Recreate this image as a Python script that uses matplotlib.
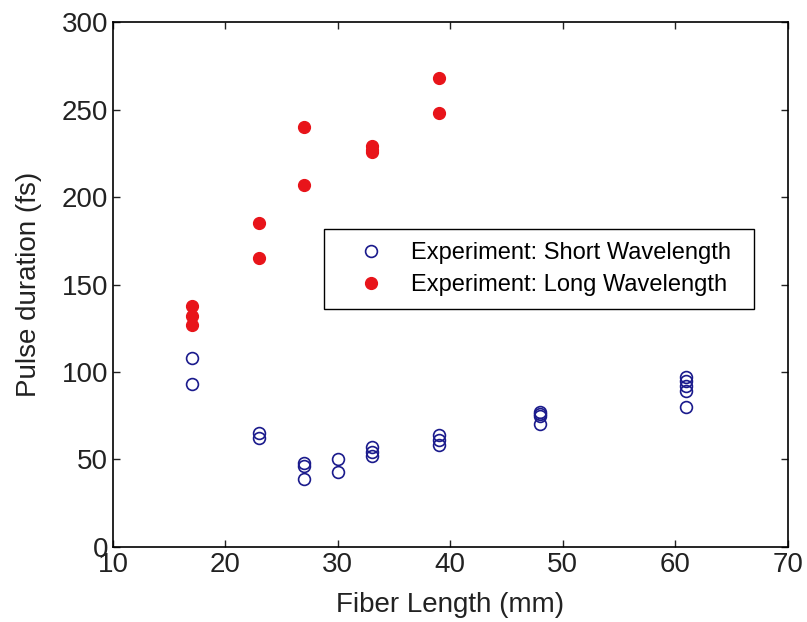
import matplotlib
matplotlib.use('Agg')
import matplotlib.pyplot as plt

plt.rcParams['font.family'] = ['Liberation Sans', 'DejaVu Sans']

# short wavelength (open blue circles)
short_x = [17, 17, 23, 23, 27, 27, 27, 30, 30, 33, 33, 33, 39, 39, 39,
           48, 48, 48, 48, 61, 61, 61, 61, 61]
short_y = [108, 93, 65, 62, 48, 46, 39, 50, 43, 57, 54, 52, 64, 61, 58,
           77, 76, 75, 70, 97, 95, 92, 89, 80]

# long wavelength (filled red circles)
long_x = [17, 17, 17, 23, 23, 27, 27, 33, 33, 33, 39, 39]
long_y = [138, 132, 127, 185, 165, 240, 207, 229, 227, 226, 268, 248]

fig = plt.figure(figsize=(8.07, 6.22), dpi=100)
ax = fig.add_axes([0.140, 0.1206, 0.836, 0.844])

ax.plot(short_x, short_y, 'o', mfc='none', mec='#1a1a8c', mew=1.2, ms=8.5,
        label='Experiment: Short Wavelength')
ax.plot(long_x, long_y, 'o', mfc='#e8141a', mec='#e8141a', ms=8.5,
        label='Experiment: Long Wavelength')

ax.set_xlim(10, 70)
ax.set_ylim(0, 300)
ax.set_xticks(range(10, 71, 10))
ax.set_yticks(range(0, 301, 50))
ax.tick_params(direction='in', top=True, right=True, length=5, width=1,
               labelsize=20, colors='#222222')
for s in ax.spines.values():
    s.set_linewidth(1.2)

ax.set_xlabel('Fiber Length (mm)', fontsize=20, color='#222222', labelpad=10)
ax.set_ylabel('Pulse duration (fs)', fontsize=20, color='#222222', labelpad=14)

leg = ax.legend(loc='upper left', bbox_to_anchor=(0.3126, 0.4495, 0.6374, 0.1565),
                mode='expand', borderaxespad=0, fontsize=17,
                fancybox=False, edgecolor='black', framealpha=1,
                handlelength=2.9, handletextpad=0.25, borderpad=0.55,
                labelspacing=0.45)
leg.get_frame().set_linewidth(1.0)

fig.savefig('out.png', dpi=100)
